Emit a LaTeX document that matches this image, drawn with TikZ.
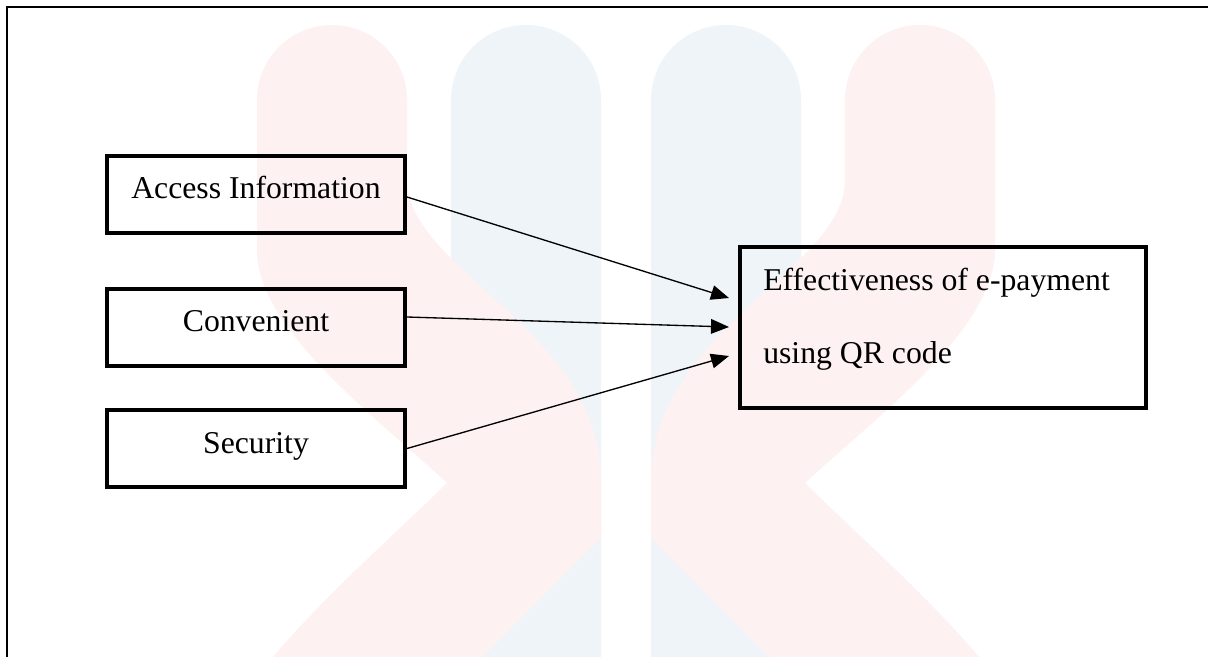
\documentclass[tikz,border=0pt]{standalone}
\usepackage{fontspec}
\setmainfont{Liberation Serif}
\usetikzlibrary{arrows.meta}
\definecolor{wmred}{RGB}{253,241,241}
\definecolor{wmblue}{RGB}{239,244,248}
\newcommand{\wmhalf}{%
    \fill[wmblue, rounded corners=56.25pt] (451,760) -- (451,25) -- (601,25) -- (601,760) -- cycle;
    \begin{scope}
      \clip (0,0) rectangle (601,700);
      \fill[wmred] (257,200) [rounded corners=56.25pt] -- (257,25) -- (407,25) [sharp corners] -- (407,180)
        .. controls (407,270) and (601,330) .. (601,480) -- (601,538) -- (420,720) -- (225,720)
        -- (273,657) .. controls (330,590) and (400,530) .. (447,483)
        .. controls (380,420) and (257,330) .. (257,250) -- cycle;
    \end{scope}}
\begin{document}
\begin{tikzpicture}[x=0.75pt,y=-0.75pt,
  factor/.style={draw, line width=3pt, minimum width=223.5pt, minimum height=57.75pt,
    inner sep=0pt, text height=16.75pt, text depth=10pt,
    font=\fontsize{23.8}{28}\selectfont},
  outcome/.style={draw, line width=3pt, minimum width=304.5pt, minimum height=120.75pt, inner sep=0pt},
  outtext/.style={anchor=base west, inner sep=0pt, align=left,
    font=\fontsize{23.8}{54.75}\selectfont},
  arr/.style={line width=1pt, -{Triangle[length=13.5pt,width=11pt]}},
  frameline/.style={line width=1.3pt, line cap=rect}]
\useasboundingbox (0,0) rectangle (1208,657);
\fill[white] (0,0) rectangle (1208,657);
% watermark
\begin{scope}
\clip (0,0) rectangle (1208,657);
\begin{scope}
\wmhalf
\end{scope}
\begin{scope}[shift={(1252,0)},xscale=-1]
\wmhalf
\end{scope}
\end{scope}
% frame
\draw[frameline] (7,660) -- (7,6.7) -- (1210,6.7);
% nodes
\node[factor] (acc) at (256,194) {Access Information};
\node[factor] (conv) at (256,327) {Convenient};
\node[factor] (sec) at (256,448.5) {Security};
\node[outcome] (eff) at (943,327.5) {};
\node[outtext] (efftext) at (763,363) {Effectiveness of e-payment\\using QR code};
\coordinate (t1) at (729,298);
\coordinate (t2) at (729,327);
\coordinate (t3) at (729,356);
\draw[arr] ([yshift=-2.25pt]acc.east) -- (t1);
\draw[arr] ([yshift=7.5pt]conv.east) -- (t2);
\draw[arr] (sec.east) -- (t3);
\end{tikzpicture}
\end{document}
